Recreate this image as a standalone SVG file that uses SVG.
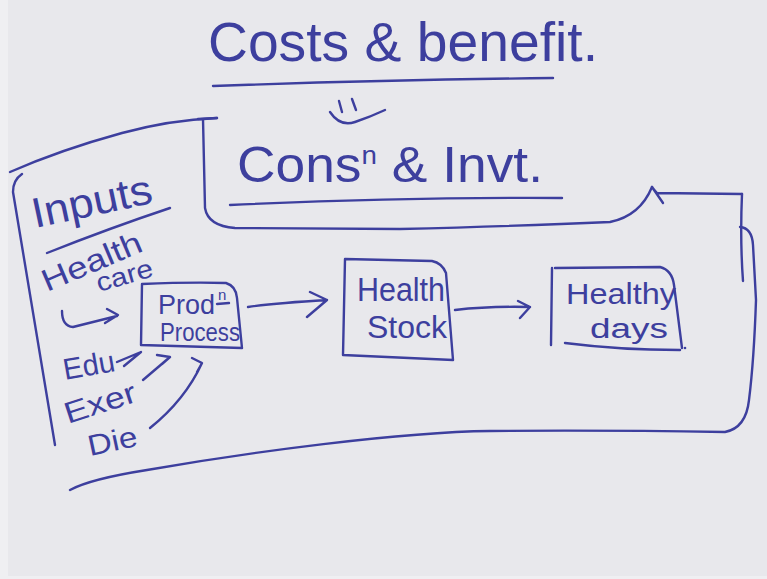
<svg xmlns="http://www.w3.org/2000/svg" width="767" height="579" viewBox="0 0 767 579">
<defs>
<style>
.ink{fill:none;stroke:#3d3f9e;stroke-width:2.4;stroke-linecap:round;stroke-linejoin:round}
.t{fill:#3d3f9e;font-family:"Liberation Sans","DejaVu Sans",sans-serif}
</style>
</defs>
<rect x="0" y="0" width="767" height="579" fill="#e8e8ec"/>
<rect x="0" y="0" width="8" height="579" fill="#efeff2"/>
<rect x="0" y="576" width="767" height="3" fill="#efeff2"/>

<g id="title">
<text class="t" x="208" y="61" font-size="56" textLength="390" lengthAdjust="spacingAndGlyphs">Costs &amp; benefit.</text>
<path class="ink" d="M213,86 Q380,80 553,78"/>
</g>

<g id="implies">
<path class="ink" d="M339,101 L342,112 M352,99 L356,110 M330,112 Q340,127 355,122 Q370,117 385,110"/>
</g>

<g id="cons-invt">
<text class="t" x="237" y="182" font-size="50" textLength="306" lengthAdjust="spacingAndGlyphs">Cons<tspan font-size="26" dy="-18">n</tspan><tspan dy="18"> &amp; Invt.</tspan></text>
<path class="ink" d="M230,205 Q400,197 562,198"/>
</g>

<g id="inputs">
<text class="t" x="35" y="228" font-size="42" transform="rotate(-12 35 228)" textLength="122" lengthAdjust="spacingAndGlyphs">Inputs</text>
<path class="ink" d="M47,253 Q110,228 170,208"/>
</g>

<g id="health-care">
<text class="t" x="47" y="292" font-size="31" transform="rotate(-23 47 292)" textLength="106" lengthAdjust="spacingAndGlyphs">Health</text>
<text class="t" x="99" y="292" font-size="26" transform="rotate(-16 99 292)" textLength="58" lengthAdjust="spacingAndGlyphs">care</text>
</g>

<g id="prod-process">
<path class="ink" d="M142,284 Q190,282 226,283 Q236,286 237,298 L242,348 L141,345 Z"/>
<text class="t" x="158" y="314" font-size="28" textLength="57" lengthAdjust="spacingAndGlyphs">Prod</text>
<text class="t" x="218" y="300" font-size="15">n</text>
<path class="ink" d="M217,304 L229,303" stroke-width="1.5"/>
<text class="t" x="160" y="341" font-size="25" textLength="80" lengthAdjust="spacingAndGlyphs">Process</text>
</g>

<g id="health-stock">
<path class="ink" d="M345,259 L432,261 Q442,263 446,273 L453,360 L343,355 Z"/>
<text class="t" x="357" y="301" font-size="34" textLength="88" lengthAdjust="spacingAndGlyphs">Health</text>
<text class="t" x="367" y="338" font-size="31" textLength="80" lengthAdjust="spacingAndGlyphs">Stock</text>
</g>

<g id="healthy-days">
<path class="ink" d="M552,268 L551,345 M555,268 L660,267 Q672,270 674,285 L682,348 M565,343 Q620,350 680,350"/>
<circle cx="685" cy="348" r="1.3" fill="#3d3f9e"/>
<text class="t" x="566" y="304" font-size="30" textLength="110" lengthAdjust="spacingAndGlyphs">Healthy</text>
<text class="t" x="590" y="338" font-size="27" textLength="78" lengthAdjust="spacingAndGlyphs">days</text>
</g>

<g id="edu">
<text class="t" x="65" y="380" font-size="30" transform="rotate(-10 65 380)" textLength="52" lengthAdjust="spacingAndGlyphs">Edu</text>
</g>
<g id="exer">
<text class="t" x="68" y="424" font-size="30" transform="rotate(-18 68 424)" textLength="74" lengthAdjust="spacingAndGlyphs">Exer</text>
</g>
<g id="diet">
<text class="t" x="90" y="456" font-size="29" transform="rotate(-12 90 456)" textLength="50" lengthAdjust="spacingAndGlyphs">Die</text>
</g>

<g id="connectors">
<path class="ink" d="M10,172 Q60,150 122,133 Q170,120 217,118"/>
<path class="ink" d="M22,174 Q13,180 13,192 L55,445"/>
<path class="ink" d="M198,119 L217,118 M203,119 L205,208 Q208,226 235,228 L400,229 Q520,226 610,222 Q640,216 652,187"/>
<path class="ink" d="M742,194 L657,193 Q654,190 652,187 M652,187 L663,203"/>
<path class="ink" d="M742,194 Q740,240 743,281"/>
<path class="ink" d="M740,227 Q752,228 753,245 L756,300 Q754,360 749,400 Q746,428 725,432 Q600,430 490,431 C400,432 250,452 147,470 Q90,479 70,490"/>
<path class="ink" d="M62,311 Q62,326 73,327 L117,316 M107,309 L118,315 L105,323"/>
<path class="ink" d="M117,362 L141,352 L124,366"/>
<path class="ink" d="M143,380 L170,357 M157,355 L170,357 L162,364"/>
<path class="ink" d="M150,428 Q185,400 202,363 M192,358 L202,363 L197,372"/>
<path class="ink" d="M248,307 Q275,303 327,300 M310,292 L327,300 L307,317"/>
<path class="ink" d="M455,310 Q490,306 530,307 M518,301 L530,307 L520,318"/>
</g>
</svg>
